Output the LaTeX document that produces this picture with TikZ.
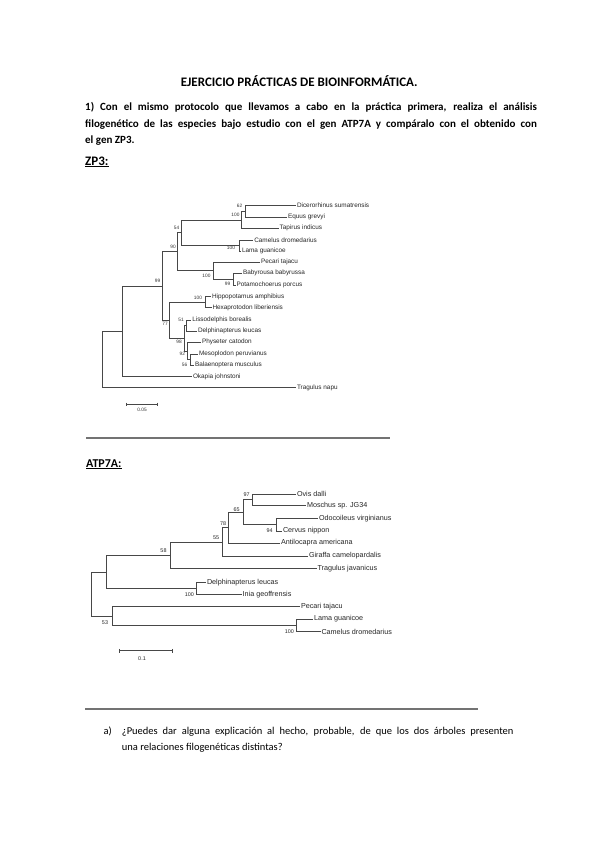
\documentclass[tikz,border=0pt]{standalone}
\usepackage{fontspec}
\setmainfont{Carlito}
\newfontfamily\arialf{Liberation Sans}
\begin{document}
\begin{tikzpicture}[x=1pt,y=-1pt,
  branch/.style={draw=black!72, line width=0.6pt},
  leafA/.style={font=\arialf\fontsize{6.4}{7}\selectfont, anchor=west, inner sep=0.8pt, text=black!85},
  leafB/.style={font=\arialf\fontsize{7.2}{8}\selectfont, anchor=west, inner sep=0.8pt, text=black!85},
  bsA/.style={font=\arialf\fontsize{4.8}{5}\selectfont, inner sep=0pt, text=black!80},
  bsB/.style={font=\arialf\fontsize{5.4}{6}\selectfont, inner sep=0pt, text=black!85},
  rule/.style={draw=black!55, line width=1.6pt},
  txt/.style={anchor=base west, inner sep=0pt},
]
\useasboundingbox[fill=white] (0,0) rectangle (599,848);

% ---------- texts ----------
\node[anchor=base, inner sep=0pt, font=\bfseries\fontsize{13}{15}\selectfont] (title) at (299.2,86.8) {EJERCICIO PRÁCTICAS DE BIOINFORMÁTICA.};
\node[txt, font=\bfseries\fontsize{11}{13}\selectfont] (p1) at (85,111) {\makebox[451.7pt][s]{1) Con el mismo protocolo que llevamos a cabo en la práctica primera, realiza el análisis}};
\node[txt, font=\bfseries\fontsize{11}{13}\selectfont] (p2) at (85,127.3) {\makebox[451.7pt][s]{filogenético de las especies bajo estudio con el gen ATP7A y compáralo con el obtenido con}};
\node[txt, font=\bfseries\fontsize{11}{13}\selectfont] (p3) at (85,143) {el gen ZP3.};
\node[txt, font=\bfseries\fontsize{13}{15}\selectfont] (hz) at (85,165) {\underline{ZP3:}};
\node[txt, font=\bfseries\fontsize{12}{14}\selectfont] (ha) at (86,467) {\underline{ATP7A:}};
\node[txt, font=\fontsize{10.5}{13}\selectfont] (qa) at (103.3,734.3) {a)};
\node[txt, font=\fontsize{10.5}{13}\selectfont] (q1) at (121.7,734.3) {\makebox[391.6pt][s]{¿Puedes dar alguna explicación al hecho, probable, de que los dos árboles presenten}};
\node[txt, font=\fontsize{10.5}{13}\selectfont] (q2) at (121.7,750.3) {una relaciones filogenéticas distintas?};

% rules
\coordinate (r1a) at (86,438); \coordinate (r1b) at (390,438);
\draw[rule] (r1a) -- (r1b);
\coordinate (r2a) at (85,709); \coordinate (r2b) at (478.3,709);
\draw[rule] (r2a) -- (r2b);

% ---------- ZP3 tree ----------
\coordinate (zroot) at (102.7,359.5);
\coordinate (zn1) at (122.3,331.3);
\coordinate (zn99) at (162.3,286);
\coordinate (zn90) at (177.5,251.7);
\coordinate (zn54) at (181.7,232.7);
\coordinate (znP) at (241,219.9);
\coordinate (znA) at (245.3,211.5);
\coordinate (znCam) at (239.3,245.5);
\coordinate (znSuid) at (213.3,270.7);
\coordinate (znBP) at (233.3,279.3);
\coordinate (zn77) at (169.3,320.3);
\coordinate (znHip) at (205,302.2);
\coordinate (zn98) at (184.3,338.2);
\coordinate (zn51) at (186,325.5);
\coordinate (zn92) at (187.3,350.9);
\coordinate (zn56) at (190,359.5);
\coordinate (zlDic) at (296,205.7);
\coordinate (zlEqu) at (287,217.1);
\coordinate (zlTap) at (278.7,228.3);
\coordinate (zlCam) at (253.3,240);
\coordinate (zlLam) at (241,251);
\coordinate (zlPec) at (260,262);
\coordinate (zlBab) at (242,273.3);
\coordinate (zlPot) at (235.5,285.3);
\coordinate (zlHip) at (211,296.7);
\coordinate (zlHex) at (211.5,307.7);
\coordinate (zlLis) at (191.3,320);
\coordinate (zlDel) at (197,331);
\coordinate (zlPhy) at (201,342.3);
\coordinate (zlMes) at (198,354);
\coordinate (zlBal) at (194,365);
\coordinate (zlOka) at (192,376.7);
\coordinate (zlTra) at (296,387.7);

\draw[branch] (zroot) |- (zn1);
\draw[branch] (zroot) |- (zlTra);
\draw[branch] (zn1) |- (zn99);
\draw[branch] (zn1) |- (zlOka);
\draw[branch] (zn99) |- (zn90);
\draw[branch] (zn99) |- (zn77);
\draw[branch] (zn90) |- (zn54);
\draw[branch] (zn90) |- (znSuid);
\draw[branch] (zn54) |- (znP);
\draw[branch] (zn54) |- (znCam);
\draw[branch] (znP) |- (znA);
\draw[branch] (znP) |- (zlTap);
\draw[branch] (znA) |- (zlDic);
\draw[branch] (znA) |- (zlEqu);
\draw[branch] (znCam) |- (zlCam);
\draw[branch] (znCam) |- (zlLam);
\draw[branch] (znSuid) |- (zlPec);
\draw[branch] (znSuid) |- (znBP);
\draw[branch] (znBP) |- (zlBab);
\draw[branch] (znBP) |- (zlPot);
\draw[branch] (zn77) |- (znHip);
\draw[branch] (zn77) |- (zn98);
\draw[branch] (znHip) |- (zlHip);
\draw[branch] (znHip) |- (zlHex);
\draw[branch] (zn98) |- (zn51);
\draw[branch] (zn98) |- (zn92);
\draw[branch] (zn51) |- (zlLis);
\draw[branch] (zn51) |- (zlDel);
\draw[branch] (zn92) |- (zlPhy);
\draw[branch] (zn92) |- (zn56);
\draw[branch] (zn56) |- (zlMes);
\draw[branch] (zn56) |- (zlBal);

\node[leafA] (ztDic) at (zlDic) {Dicerorhinus sumatrensis};
\node[leafA] (ztEqu) at (zlEqu) {Equus grevyi};
\node[leafA] (ztTap) at (zlTap) {Tapirus indicus};
\node[leafA] (ztCam) at (zlCam) {Camelus dromedarius};
\node[leafA] (ztLam) at (zlLam) {Lama guanicoe};
\node[leafA] (ztPec) at (zlPec) {Pecari tajacu};
\node[leafA] (ztBab) at (zlBab) {Babyrousa babyrussa};
\node[leafA] (ztPot) at (zlPot) {Potamochoerus porcus};
\node[leafA] (ztHip) at (zlHip) {Hippopotamus amphibius};
\node[leafA] (ztHex) at (zlHex) {Hexaprotodon liberiensis};
\node[leafA] (ztLis) at (zlLis) {Lissodelphis borealis};
\node[leafA] (ztDel) at (zlDel) {Delphinapterus leucas};
\node[leafA] (ztPhy) at (zlPhy) {Physeter catodon};
\node[leafA] (ztMes) at (zlMes) {Mesoplodon peruvianus};
\node[leafA] (ztBal) at (zlBal) {Balaenoptera musculus};
\node[leafA] (ztOka) at (zlOka) {Okapia johnstoni};
\node[leafA] (ztTra) at (zlTra) {Tragulus napu};

\node[bsA] (zb62) at (239.5,205.5) {62};
\node[bsA] (zb100a) at (235.5,214.5) {100};
\node[bsA] (zb54) at (176.5,227.5) {54};
\node[bsA] (zb90) at (173,246.5) {90};
\node[bsA] (zb100c) at (231,247.5) {100};
\node[bsA] (zb100s) at (206.5,275.5) {100};
\node[bsA] (zb99p) at (227.5,284) {99};
\node[bsA] (zb99) at (157.5,281) {99};
\node[bsA] (zb100h) at (198,297.5) {100};
\node[bsA] (zb77) at (165,324) {77};
\node[bsA] (zb51) at (181,320) {51};
\node[bsA] (zb98) at (179,342.3) {98};
\node[bsA] (zb92) at (182.3,354) {92};
\node[bsA] (zb56) at (184.5,365) {56};

\coordinate (zs1) at (126.7,404.3); \coordinate (zs2) at (157.3,404.3);
\draw[branch] (zs1) -- (zs2);
\draw[branch] ([yshift=1.6pt]zs1) -- ([yshift=-1.6pt]zs1);
\draw[branch] ([yshift=1.6pt]zs2) -- ([yshift=-1.6pt]zs2);
\node[bsA] (zsl) at (142,409.5) {0.05};

% ---------- ATP7A tree ----------
\coordinate (aroot) at (91,594);
\coordinate (aC1) at (106,571.9);
\coordinate (an58) at (170,555.2);
\coordinate (an55) at (222.7,541.8);
\coordinate (an78) at (228.3,527.6);
\coordinate (an65) at (243.3,512.2);
\coordinate (an97) at (252.3,499.7);
\coordinate (an94) at (276,524.7);
\coordinate (anDI) at (196.7,588.5);
\coordinate (an53) at (112.3,616);
\coordinate (anCam) at (296,625.3);

\coordinate (alOvi) at (296,494);
\coordinate (alMos) at (306,505.3);
\coordinate (alOdo) at (318,518.3);
\coordinate (alCer) at (282,531);
\coordinate (alAnt) at (280,543);
\coordinate (alGir) at (308,556);
\coordinate (alTra) at (316.5,568.7);
\coordinate (alDel) at (206,582.3);
\coordinate (alIni) at (241.7,594.7);
\coordinate (alPec) at (300,606.7);
\coordinate (alLam) at (313,619);
\coordinate (alCam) at (320.5,631.7);

\draw[branch] (aroot) |- (aC1);
\draw[branch] (aroot) |- (an53);
\draw[branch] (aC1) |- (an58);
\draw[branch] (aC1) |- (anDI);
\draw[branch] (an58) |- (an55);
\draw[branch] (an58) |- (alTra);
\draw[branch] (an55) |- (an78);
\draw[branch] (an55) |- (alGir);
\draw[branch] (an78) |- (an65);
\draw[branch] (an78) |- (alAnt);
\draw[branch] (an65) |- (an97);
\draw[branch] (an65) |- (an94);
\draw[branch] (an97) |- (alOvi);
\draw[branch] (an97) |- (alMos);
\draw[branch] (an94) |- (alOdo);
\draw[branch] (an94) |- (alCer);
\draw[branch] (anDI) |- (alDel);
\draw[branch] (anDI) |- (alIni);
\draw[branch] (an53) |- (alPec);
\draw[branch] (an53) |- (anCam);
\draw[branch] (anCam) |- (alLam);
\draw[branch] (anCam) |- (alCam);

\node[leafB] (atOvi) at (alOvi) {Ovis dalli};
\node[leafB] (atMos) at (alMos) {Moschus sp. JG34};
\node[leafB] (atOdo) at (alOdo) {Odocoileus virginianus};
\node[leafB] (atCer) at (alCer) {Cervus nippon};
\node[leafB] (atAnt) at (alAnt) {Antilocapra americana};
\node[leafB] (atGir) at (alGir) {Giraffa camelopardalis};
\node[leafB] (atTra) at (alTra) {Tragulus javanicus};
\node[leafB] (atDel) at (alDel) {Delphinapterus leucas};
\node[leafB] (atIni) at (alIni) {Inia geoffrensis};
\node[leafB] (atPec) at (alPec) {Pecari tajacu};
\node[leafB] (atLam) at (alLam) {Lama guanicoe};
\node[leafB] (atCam) at (alCam) {Camelus dromedarius};

\node[bsB] (ab97) at (246.7,495) {97};
\node[bsB] (ab65) at (236.7,509.3) {65};
\node[bsB] (ab78) at (223,523.3) {78};
\node[bsB] (ab55) at (216,537.3) {55};
\node[bsB] (ab58) at (163.5,550.7) {58};
\node[bsB] (ab94) at (269.5,530.7) {94};
\node[bsB] (ab100d) at (189.3,595) {100};
\node[bsB] (ab53) at (105,622.7) {53};
\node[bsB] (ab100c) at (289.3,631.7) {100};

\coordinate (as1) at (119.3,650.7); \coordinate (as2) at (172.7,650.7);
\draw[branch] (as1) -- (as2);
\draw[branch] ([yshift=1.8pt]as1) -- ([yshift=-1.8pt]as1);
\draw[branch] ([yshift=1.8pt]as2) -- ([yshift=-1.8pt]as2);
\node[bsB] (asl) at (142,658.5) {0.1};
\end{tikzpicture}
\end{document}
